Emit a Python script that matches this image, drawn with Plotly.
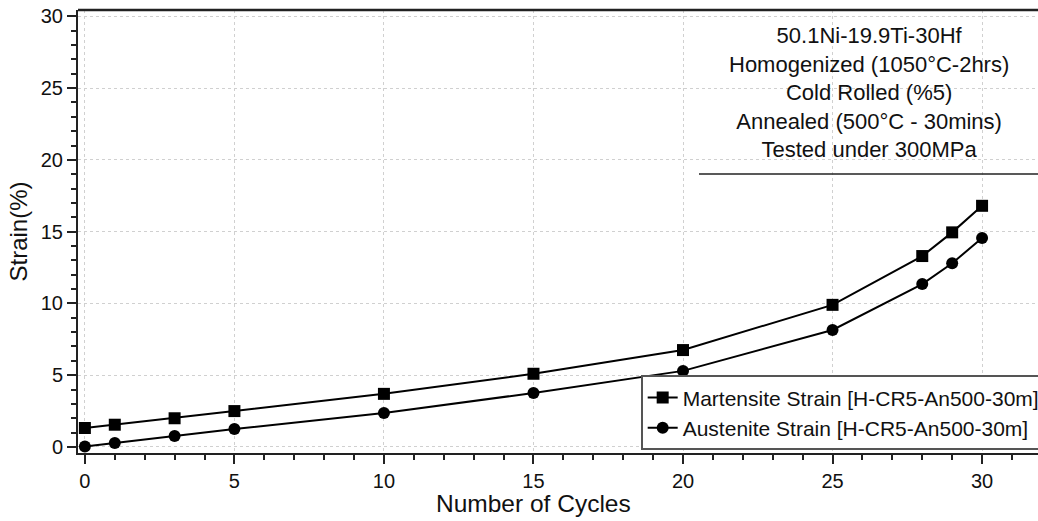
import plotly.graph_objects as go

# Thermal cycling strain data
cycles = [0, 1, 3, 5, 10, 15, 20, 25, 28, 29, 30]
martensite_strain = [1.32, 1.55, 2.0, 2.5, 3.7, 5.1, 6.75, 9.9, 13.3, 14.95, 16.8]
austenite_strain = [0.03, 0.28, 0.77, 1.25, 2.37, 3.76, 5.3, 8.15, 11.35, 12.8, 14.55]

series_names = ["Martensite Strain [H-CR5-An500-30m]",
                "Austenite Strain [H-CR5-An500-30m]"]

info_lines = ["50.1Ni-19.9Ti-30Hf",
              "Homogenized (1050°C-2hrs)",
              "Cold Rolled (%5)",
              "Annealed (500°C - 30mins)",
              "Tested under 300MPa"]

x_title = "Number of Cycles"
y_title = "Strain(%)"

FONT = "Liberation Sans, Arial, Helvetica, sans-serif"

fig = go.Figure()
fig.add_trace(go.Scatter(
    x=cycles, y=martensite_strain, mode="lines+markers", name=series_names[0],
    line=dict(color="black", width=2),
    marker=dict(symbol="square", size=12, color="black"),
))
fig.add_trace(go.Scatter(
    x=cycles, y=austenite_strain, mode="lines+markers", name=series_names[1],
    line=dict(color="black", width=2),
    marker=dict(symbol="circle", size=12, color="black"),
))

axis_common = dict(
    showline=True, linecolor="#222", linewidth=2,
    ticks="outside", ticklen=9, tickwidth=2, tickcolor="#222",
    showgrid=True, gridcolor="#d0d0d0", griddash="dot", gridwidth=1,
    zeroline=False,
    tickfont=dict(family=FONT, size=20, color="#111"),
)

fig.update_xaxes(
    range=[-0.23, 31.87], dtick=5, tick0=0,
    minor=dict(dtick=1, ticks="outside", ticklen=5, tickwidth=2, tickcolor="#222", showgrid=False),
    **axis_common,
)
fig.update_yaxes(
    range=[-0.42, 30.44], dtick=5, tick0=0,
    minor=dict(dtick=1, ticks="outside", ticklen=5, tickwidth=2, tickcolor="#222", showgrid=False),
    title=dict(text=y_title, font=dict(family=FONT, size=24, color="#111"), standoff=6),
    **axis_common,
)

# x-axis title, centred under the 0-30 cycle span
fig.add_annotation(
    text=x_title, xref="x", yref="paper", x=15, y=(453 - 503) / 443,
    xanchor="center", yanchor="middle", showarrow=False,
    font=dict(family=FONT, size=24.5, color="#111"),
)

# Frame line along the top of the plotting area
fig.add_shape(type="line", xref="paper", yref="paper", x0=0, x1=1, y0=1, y1=1,
              line=dict(color="#222", width=2.5))

# Specimen description block with rule underneath
fig.add_annotation(
    text="<br>".join(info_lines), xref="paper", yref="paper",
    x=(869 - 78) / 960, y=(453 - 92) / 443,
    xanchor="center", yanchor="middle", align="center", showarrow=False,
    font=dict(family=FONT, size=22, color="#111"),
)
fig.add_shape(type="line", xref="paper", yref="paper",
              x0=(699 - 78) / 960, x1=1, y0=(453 - 174) / 443, y1=(453 - 174) / 443,
              line=dict(color="#222", width=1.5))

fig.update_layout(
    width=1038, height=521,
    margin=dict(l=78, r=0, t=10, b=68, autoexpand=False),
    paper_bgcolor="white", plot_bgcolor="white",
    showlegend=True,
    legend=dict(
        x=1.008, xanchor="right", y=0.006, yanchor="bottom",
        bgcolor="white", bordercolor="#555", borderwidth=2,
        font=dict(family=FONT, size=21, color="#111"),
        tracegroupgap=0, itemwidth=30,
    ),
    font=dict(family=FONT, color="#111"),
)

fig.write_html("out.html")
